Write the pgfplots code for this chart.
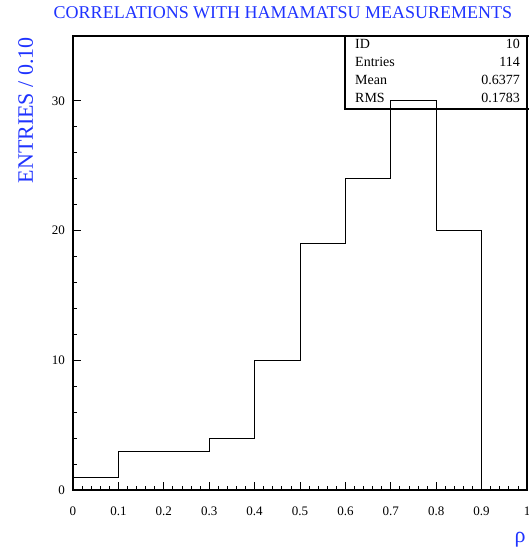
\documentclass[border=0pt]{standalone}
\usepackage{fontspec}
\setmainfont{Liberation Serif}
\usepackage{pgfplots}
\pgfplotsset{compat=1.18}
\definecolor{rootblue}{rgb}{0.12,0.2,1}
\begin{document}
\begin{tikzpicture}
\begin{axis}[
  at={(0pt,0pt)}, anchor=south west,
  scale only axis, width=454pt, height=454pt,
  xmin=0, xmax=1, ymin=0, ymax=35,
  xtick={0,0.1,0.2,0.3,0.4,0.5,0.6,0.7,0.8,0.9,1},
  xticklabels={0,0.1,0.2,0.3,0.4,0.5,0.6,0.7,0.8,0.9,1},
  ytick={0,10,20,30},
  yticklabels={0,10,20,30},
  minor x tick num=4, minor y tick num=4,
  tick align=inside, xtick pos=bottom, ytick pos=left,
  major tick length=8pt, minor tick length=4pt,
  axis line style={line width=1.2pt},
  tick style={line width=0.8pt, black},
  tick label style={font=\fontsize{13}{15}\selectfont},
  /pgf/number format/assume math mode=true,
  xticklabel style={anchor=base, yshift=-25pt, inner sep=0pt},
  yticklabel style={anchor=east, xshift=-8pt, inner sep=0pt},
  clip=false,
]
\addplot[const plot, black, line width=0.8pt] coordinates {
(0,1) (0.1,3) (0.2,3) (0.3,4) (0.4,10) (0.5,19) (0.6,24) (0.7,30) (0.8,20) (0.9,0) (1,0)
};
\end{axis}
\draw[line width=1.5pt] (272pt,381pt) rectangle (470pt,454pt);
\begin{scope}[every node/.style={inner sep=0pt, font=\fontsize{14}{16}\selectfont}]
\node[anchor=base west] at (282pt,441pt) {ID};
\node[anchor=base east] at (447pt,441pt) {10};
\node[anchor=base west] at (282pt,423pt) {Entries};
\node[anchor=base east] at (447pt,423pt) {114};
\node[anchor=base west] at (282pt,405pt) {Mean};
\node[anchor=base east] at (447pt,405pt) {0.6377};
\node[anchor=base west] at (282pt,387pt) {RMS};
\node[anchor=base east] at (447pt,387pt) {0.1783};
\end{scope}
\node[anchor=base, inner sep=0pt, font=\fontsize{18}{20}\selectfont, text=rootblue] at (210pt,471pt) {CORRELATIONS WITH HAMAMATSU MEASUREMENTS};
\node[rotate=90, anchor=base east, inner sep=0pt, font=\fontsize{22}{24}\selectfont, text=rootblue] at (-40pt,453pt) {ENTRIES / 0.10};
\node[anchor=base, inner sep=0pt, font=\fontsize{22}{24}\selectfont, text=rootblue] at (447pt,-52pt) {ρ};
\pgfresetboundingbox
\path (-73pt,-64pt) rectangle (455pt,490pt);
\end{tikzpicture}
\end{document}
